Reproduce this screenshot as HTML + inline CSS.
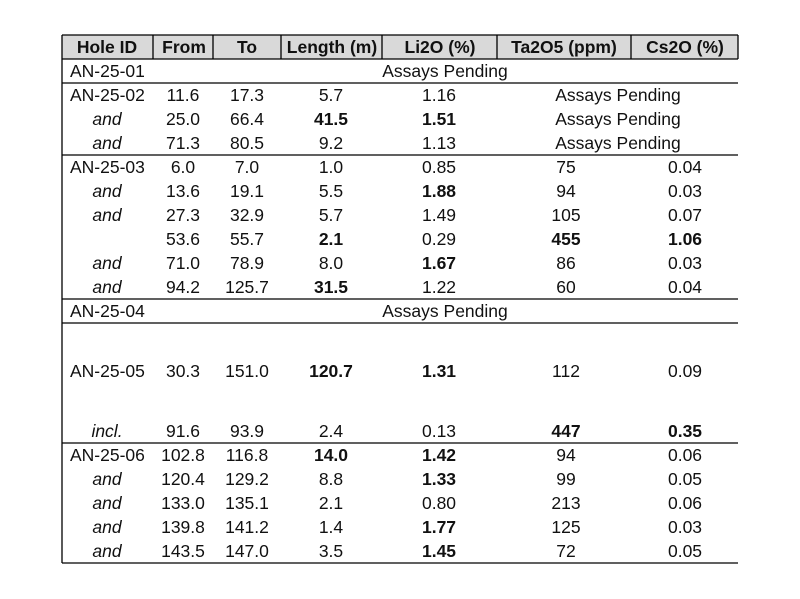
<!DOCTYPE html>
<html><head><meta charset="utf-8"><style>
html,body{margin:0;padding:0;background:#fff;}
svg{display:block;}
text{font-family:"Liberation Sans",Arial,sans-serif;font-size:17.5px;fill:#111;}
.b{font-weight:bold;}
.i{font-style:italic;}
</style></head><body>
<svg width="800" height="599" viewBox="0 0 800 599">
<rect x="62" y="35" width="676" height="24" fill="#d9d9d9"/>
<g stroke="#000" stroke-width="1.3" fill="none">
<line x1="62" y1="35" x2="738" y2="35"/>
<line x1="62" y1="59" x2="738" y2="59"/>
<line x1="62" y1="83" x2="738" y2="83"/>
<line x1="62" y1="155" x2="738" y2="155"/>
<line x1="62" y1="299" x2="738" y2="299"/>
<line x1="62" y1="323" x2="738" y2="323"/>
<line x1="62" y1="443" x2="738" y2="443"/>
<line x1="62" y1="563" x2="738" y2="563"/>
<line x1="62" y1="35" x2="62" y2="563"/>
<line x1="153" y1="35" x2="153" y2="59"/>
<line x1="213" y1="35" x2="213" y2="59"/>
<line x1="281" y1="35" x2="281" y2="59"/>
<line x1="382" y1="35" x2="382" y2="59"/>
<line x1="497" y1="35" x2="497" y2="59"/>
<line x1="631" y1="35" x2="631" y2="59"/>
<line x1="738" y1="35" x2="738" y2="59"/>
</g>
<g text-anchor="middle" class="b">
<text x="107" y="53" class="b">Hole ID</text>
<text x="184" y="53" class="b">From</text>
<text x="247" y="53" class="b">To</text>
<text x="332" y="53" class="b">Length (m)</text>
<text x="440" y="53" class="b">Li2O (%)</text>
<text x="564" y="53" class="b">Ta2O5 (ppm)</text>
<text x="685" y="53" class="b">Cs2O (%)</text>
</g>
<g text-anchor="middle">
<text x="70" y="77" text-anchor="start">AN-25-01</text>
<text x="445" y="77">Assays Pending</text>

<text x="70" y="101" text-anchor="start">AN-25-02</text>
<text x="183" y="101">11.6</text><text x="247" y="101">17.3</text><text x="331" y="101">5.7</text><text x="439" y="101">1.16</text><text x="618" y="101">Assays Pending</text>
<text x="107" y="125" class="i">and</text>
<text x="183" y="125">25.0</text><text x="247" y="125">66.4</text><text x="331" y="125" class="b">41.5</text><text x="439" y="125" class="b">1.51</text><text x="618" y="125">Assays Pending</text>
<text x="107" y="149" class="i">and</text>
<text x="183" y="149">71.3</text><text x="247" y="149">80.5</text><text x="331" y="149">9.2</text><text x="439" y="149">1.13</text><text x="618" y="149">Assays Pending</text>

<text x="70" y="173" text-anchor="start">AN-25-03</text>
<text x="183" y="173">6.0</text><text x="247" y="173">7.0</text><text x="331" y="173">1.0</text><text x="439" y="173">0.85</text><text x="566" y="173">75</text><text x="685" y="173">0.04</text>
<text x="107" y="197" class="i">and</text>
<text x="183" y="197">13.6</text><text x="247" y="197">19.1</text><text x="331" y="197">5.5</text><text x="439" y="197" class="b">1.88</text><text x="566" y="197">94</text><text x="685" y="197">0.03</text>
<text x="107" y="221" class="i">and</text>
<text x="183" y="221">27.3</text><text x="247" y="221">32.9</text><text x="331" y="221">5.7</text><text x="439" y="221">1.49</text><text x="566" y="221">105</text><text x="685" y="221">0.07</text>
<text x="183" y="245">53.6</text><text x="247" y="245">55.7</text><text x="331" y="245" class="b">2.1</text><text x="439" y="245">0.29</text><text x="566" y="245" class="b">455</text><text x="685" y="245" class="b">1.06</text>
<text x="107" y="269" class="i">and</text>
<text x="183" y="269">71.0</text><text x="247" y="269">78.9</text><text x="331" y="269">8.0</text><text x="439" y="269" class="b">1.67</text><text x="566" y="269">86</text><text x="685" y="269">0.03</text>
<text x="107" y="293" class="i">and</text>
<text x="183" y="293">94.2</text><text x="247" y="293">125.7</text><text x="331" y="293" class="b">31.5</text><text x="439" y="293">1.22</text><text x="566" y="293">60</text><text x="685" y="293">0.04</text>

<text x="70" y="317" text-anchor="start">AN-25-04</text>
<text x="445" y="317">Assays Pending</text>

<text x="70" y="377" text-anchor="start">AN-25-05</text>
<text x="183" y="377">30.3</text><text x="247" y="377">151.0</text><text x="331" y="377" class="b">120.7</text><text x="439" y="377" class="b">1.31</text><text x="566" y="377">112</text><text x="685" y="377">0.09</text>
<text x="107" y="437" class="i">incl.</text>
<text x="183" y="437">91.6</text><text x="247" y="437">93.9</text><text x="331" y="437">2.4</text><text x="439" y="437">0.13</text><text x="566" y="437" class="b">447</text><text x="685" y="437" class="b">0.35</text>

<text x="70" y="461" text-anchor="start">AN-25-06</text>
<text x="183" y="461">102.8</text><text x="247" y="461">116.8</text><text x="331" y="461" class="b">14.0</text><text x="439" y="461" class="b">1.42</text><text x="566" y="461">94</text><text x="685" y="461">0.06</text>
<text x="107" y="485" class="i">and</text>
<text x="183" y="485">120.4</text><text x="247" y="485">129.2</text><text x="331" y="485">8.8</text><text x="439" y="485" class="b">1.33</text><text x="566" y="485">99</text><text x="685" y="485">0.05</text>
<text x="107" y="509" class="i">and</text>
<text x="183" y="509">133.0</text><text x="247" y="509">135.1</text><text x="331" y="509">2.1</text><text x="439" y="509">0.80</text><text x="566" y="509">213</text><text x="685" y="509">0.06</text>
<text x="107" y="533" class="i">and</text>
<text x="183" y="533">139.8</text><text x="247" y="533">141.2</text><text x="331" y="533">1.4</text><text x="439" y="533" class="b">1.77</text><text x="566" y="533">125</text><text x="685" y="533">0.03</text>
<text x="107" y="557" class="i">and</text>
<text x="183" y="557">143.5</text><text x="247" y="557">147.0</text><text x="331" y="557">3.5</text><text x="439" y="557" class="b">1.45</text><text x="566" y="557">72</text><text x="685" y="557">0.05</text>
</g>
</svg>
</body></html>
